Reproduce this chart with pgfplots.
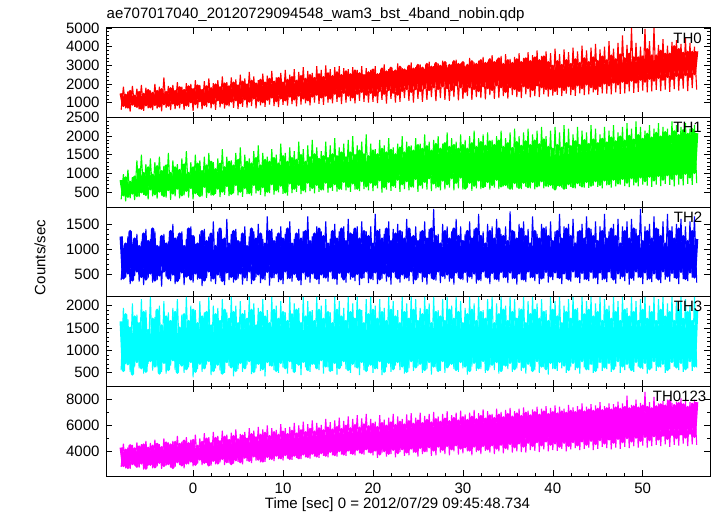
\documentclass[border=0pt]{standalone}
\usepackage{fontspec}
\setmainfont{Liberation Sans}
\usepackage{pgfplots}
\usepackage{pgfplotstable}
\pgfplotsset{compat=1.18}
\definecolor{cR}{RGB}{255,0,0}
\definecolor{cG}{RGB}{0,255,0}
\definecolor{cB}{RGB}{0,0,255}
\definecolor{cC}{RGB}{0,255,255}
\definecolor{cM}{RGB}{255,0,255}
\pgfplotstableread{
t a b c d e f g h i j
-8.00 620 300 380 560 2800 1500 820 1250 1650 4300
-7.75 1850 980 1020 1950 4600 850 420 420 550 2900
-7.50 700 250 430 700 2700 1400 880 1100 1800 4100
-7.25 1600 1100 1250 1700 4300 760 380 520 700 2750
-7.00 520 330 300 520 2650 1600 760 1350 1500 4450
-6.75 1900 900 1100 2050 4500 920 470 380 470 3050
-6.50 780 280 460 640 2900 1350 900 1200 1750 4200
-6.25 1750 1350 1300 1800 4700 800 400 560 750 2850
-6.00 640 360 350 600 2750 1550 1100 1050 1600 4350
-5.75 1950 1500 1150 2150 4550 700 500 450 610 3100
-5.50 560 420 280 480 2600 1450 1000 1300 1850 4500
-5.25 1800 1250 1400 1900 4800 880 430 400 530 2700
-5.00 700 300 420 700 2900 1650 1150 1150 1450 4250
-4.75 1650 1400 1200 2200 4650 780 580 520 770 3000
-4.50 600 380 330 550 2700 1500 950 1400 1700 4400
-4.25 2000 1300 1350 1750 4900 900 450 380 650 2800
-4.00 680 320 380 620 2850 1600 1180 1050 1900 4550
-3.75 1850 1450 1050 2000 4550 820 520 480 490 3150
-3.50 540 400 250 520 2650 1700 1050 1250 1550 4300
-3.25 2350 1200 1300 2100 5000 940 400 560 730 2900
-3.00 720 350 440 480 2900 1550 1200 1100 1750 4650
-2.75 1900 1550 1150 1850 4700 860 560 420 570 3050
-2.50 600 290 360 660 2750 1750 1000 1350 1650 4500
-2.25 1950 1350 1500 1950 4800 980 470 500 790 2750
-2.00 650 380 300 560 2800 1600 1150 1200 1850 4700
-1.75 2100 1250 1250 2150 5200 900 600 370 510 3200
-1.50 700 330 400 700 2950 1800 1080 1300 1500 4550
-1.25 1850 1400 1350 1800 4750 1000 420 540 670 2950
-1.00 620 410 280 500 2700 1650 1230 1050 1800 4800
-0.75 2050 1600 1200 2200 5100 880 540 460 590 3100
-0.50 780 350 460 620 3000 1850 1000 1400 1650 4600
-0.25 2000 1300 1450 2000 4900 1050 620 400 750 3250
0.00 560 300 330 400 2850 1700 1150 1250 1900 4850
0.25 2200 1500 1100 1900 5300 950 480 520 530 3000
0.50 700 420 390 580 3050 1900 1250 1100 1600 4400
0.75 1950 1350 1300 2100 5000 1100 400 430 710 3400
1.00 640 380 260 520 2950 1650 1050 1350 1750 4700
1.25 2150 1450 1400 1850 5400 900 650 380 610 3150
1.50 760 340 420 680 3100 1850 1200 1150 1850 4950
1.75 2300 1550 1250 2200 5100 1050 500 560 770 2950
2.00 700 400 350 450 2900 1750 1300 1300 1550 4600
2.25 2050 1300 1550 2000 5500 980 440 420 550 3300
2.50 620 450 300 600 3000 1950 1100 1050 1800 5000
2.75 2200 1400 1350 1950 5200 1150 600 500 690 3100
3.00 750 360 420 550 3150 1800 1250 1400 1650 4750
3.25 2400 1650 1200 2150 5600 1000 520 370 490 3450
3.50 680 420 280 500 2950 2000 1150 1200 1900 5100
3.75 2100 1450 1600 1850 5300 920 670 540 750 3200
4.00 800 390 380 650 3100 1850 1300 1100 1700 4850
4.25 2350 1350 1300 2200 5450 1080 460 450 630 3050
4.50 720 460 330 420 3050 2050 1200 1350 1850 5150
4.75 2250 1550 1400 2000 5700 1150 700 400 550 3350
5.00 660 410 410 580 3200 1900 1350 1150 1600 4900
5.25 2500 1700 1150 2100 5350 1000 520 520 730 3200
5.50 780 370 290 520 3000 2100 1150 1300 1800 5200
5.75 2300 1500 1450 1900 5500 1200 620 440 610 3550
6.00 740 440 360 680 3250 1950 1300 1050 1700 4950
6.25 2650 1400 1250 2200 5800 1080 480 560 770 3300
6.50 820 400 300 470 3100 2150 1250 1400 1900 5300
6.75 2400 1600 1350 2050 5600 1250 700 390 530 3650
7.00 700 460 440 600 3300 2000 1400 1200 1550 5050
7.25 2200 1750 1500 1950 5900 1120 560 500 710 3400
7.50 860 420 320 540 3150 2200 1200 1300 1850 5250
7.75 2550 1550 1200 2150 5700 1050 640 420 590 3250
8.00 780 380 380 420 3200 2050 1350 1100 1750 5400
8.25 2450 1450 1650 1900 6000 1180 520 550 750 3600
8.50 900 470 270 650 3350 2250 1300 1350 1600 5150
8.75 2700 1650 1400 2200 5800 1300 720 440 670 3450
9.00 820 430 420 560 3250 2100 1400 1150 1900 5450
9.25 2350 1500 1250 2000 5650 1100 560 520 550 3700
9.50 760 490 340 500 3400 2300 1250 1300 1700 5250
9.75 2600 1800 1450 2100 6100 1250 680 400 730 3500
10.00 880 450 300 620 3300 2050 1450 1200 1850 5500
10.25 2750 1550 1300 1850 5800 1150 500 560 610 3750
10.50 840 400 400 480 3450 2200 1300 1400 1650 5300
10.75 2500 1700 1550 2200 5900 1350 740 430 770 3450
11.00 920 470 350 580 3350 2350 1400 1100 1800 5550
11.25 2800 1600 1200 2050 6200 1200 600 510 530 3700
11.50 800 500 430 700 3500 2150 1350 1300 1900 5350
11.75 2650 1850 1400 1950 6000 1400 700 390 690 3500
12.00 900 440 280 450 3400 2400 1480 1200 1600 5600
12.25 2900 1650 1350 2200 6300 1250 560 540 750 3800
12.50 960 490 390 620 3550 2250 1300 1350 1750 5450
12.75 2700 1750 1650 2100 6100 1150 760 460 570 3600
13.00 860 520 330 520 3450 2450 1420 1150 1850 5700
13.25 2600 1900 1250 1900 6400 1350 620 520 710 3850
13.50 1000 460 410 680 3600 2300 1500 1300 1650 5500
13.75 2950 1700 1450 2200 6200 1450 700 410 610 3650
14.00 940 500 300 560 3500 2500 1380 1400 1900 5750
14.25 2750 1600 1350 2000 6050 1300 580 500 790 3900
14.50 880 540 420 480 3650 2350 1450 1250 1700 5600
14.75 3000 1850 1550 2150 6500 1400 760 440 650 3700
15.00 1000 480 350 620 3550 2550 1400 1100 1850 5800
15.25 2800 1750 1200 1850 6250 1250 640 560 550 4000
15.50 960 530 400 540 3700 2400 1500 1350 1600 5650
15.75 2900 1950 1500 2200 6400 1500 720 420 730 3750
16.00 1050 510 290 460 3600 2600 1450 1200 1900 5850
16.25 2950 1700 1350 2100 6600 1350 600 530 610 4050
16.50 920 560 430 650 3750 2450 1550 1400 1750 5700
16.75 2850 1800 1450 1950 6350 1550 780 400 770 3800
17.00 1000 540 330 580 3650 2650 1420 1150 1650 5950
17.25 2800 1900 1600 2200 6700 1400 650 540 570 4100
17.50 1080 500 390 500 3800 2500 1550 1300 1850 5750
17.75 2900 2000 1300 2050 6500 1300 740 450 710 3850
18.00 960 560 360 620 3700 2700 1480 1400 1700 6000
18.25 2750 1750 1450 2200 6800 1500 600 510 630 4150
18.50 1100 520 280 450 3850 2550 1600 1200 1900 5800
18.75 2950 1850 1550 1900 6550 1600 800 430 750 3900
19.00 1050 580 420 560 3750 2450 1500 1350 1600 6050
19.25 2850 2050 1350 2150 6900 1450 660 560 550 4200
19.50 1000 540 320 640 3900 2600 1450 1250 1800 5900
19.75 2750 1800 1450 2200 6500 1550 760 420 690 3950
20.00 1050 520 380 500 3700 2750 1600 1100 1900 6100
20.25 2950 1650 1700 2000 6300 1400 700 540 610 4100
20.50 980 600 300 580 3500 2500 1500 1350 1700 5850
20.75 2600 1900 1400 2150 6800 1650 820 400 770 3800
21.00 1150 480 410 450 3900 2800 1650 1200 1850 6150
21.25 3050 1750 1300 1950 6450 1500 640 520 530 4050
21.50 950 560 350 620 3600 2650 1550 1400 1650 5950
21.75 2800 1950 1550 2200 6600 1700 780 460 730 3850
22.00 1200 530 290 520 3800 2850 1620 1150 1900 6200
22.25 2700 1700 1400 2100 6900 1550 680 550 590 4150
22.50 1000 610 430 660 3550 2700 1500 1300 1750 6000
22.75 3100 1800 1500 1900 6700 1450 840 420 750 3900
23.00 1050 500 330 560 3950 2900 1680 1350 1600 6250
23.25 2850 2000 1350 2200 6500 1650 720 500 650 4200
23.50 1250 580 400 480 3650 2750 1550 1200 1850 6050
23.75 2750 1850 1600 2050 6850 1750 800 440 530 3950
24.00 1100 540 360 600 3700 2950 1700 1400 1700 6300
24.25 3150 1750 1250 2200 6950 1600 660 560 770 4250
24.50 1000 620 300 540 3900 2800 1600 1250 1900 6100
24.75 2900 1950 1450 2150 6600 1750 860 400 630 4000
25.00 1200 500 420 650 3600 3000 1750 1150 1650 6350
25.25 3050 1800 1350 1950 7000 1650 700 540 710 4300
25.50 1050 590 340 500 3800 2850 1650 1350 1800 6150
25.75 2800 2050 1550 2200 6750 1800 780 450 570 4050
26.00 1150 560 290 580 3950 3050 1720 1200 1900 6400
26.25 3200 1850 1400 2050 6900 1700 880 520 750 4350
26.50 1300 520 410 460 3650 2900 1600 1400 1600 6200
26.75 2950 1900 1800 2200 7050 1850 740 410 650 4100
27.00 1080 600 370 620 3700 3100 1780 1250 1850 6450
27.25 3100 2000 1300 1900 6700 1750 660 560 550 4400
27.50 1250 540 320 540 3900 2950 1650 1100 1750 6250
27.75 3250 1800 1500 2150 6900 1900 820 470 770 4150
28.00 1150 570 400 500 3800 3150 1800 1350 1650 6500
28.25 2900 2100 1450 2200 7100 1800 720 500 630 4450
28.50 1100 620 350 660 3700 3000 1700 1200 1900 6300
28.75 3050 1950 1350 2000 6800 1700 880 430 710 4200
29.00 1300 540 290 580 4000 3200 1750 1400 1700 6550
29.25 3300 1850 1600 2200 7000 1950 760 540 570 4500
29.50 1120 600 420 520 3750 3050 1650 1250 1850 6350
29.75 3100 2050 1450 2100 7150 1850 900 420 750 4250
30.00 1200 560 380 600 3850 3150 1750 1150 1600 6600
30.25 2950 1900 1300 1950 6850 1600 600 550 650 4350
30.50 1350 620 330 460 4000 3000 1650 1350 1800 6400
30.75 3400 2000 1550 2200 7000 1850 760 460 550 4100
31.00 1150 530 400 640 3700 3200 1800 1200 1900 6650
31.25 3150 2150 1400 2050 7200 1750 680 520 730 4400
31.50 1300 600 310 540 3950 3050 1700 1400 1650 6450
31.75 3250 1950 1700 2200 6950 1650 820 400 610 4150
32.00 1250 580 360 580 3800 3250 1830 1250 1850 6700
32.25 3450 2050 1350 1900 7250 1900 640 560 770 4450
32.50 1180 640 430 500 4050 3100 1730 1100 1700 6500
32.75 3200 2100 1500 2150 7100 1800 780 440 570 4200
33.00 1400 560 300 620 3900 3300 1850 1350 1900 6750
33.25 3550 1900 1450 2200 6900 1700 700 530 690 4500
33.50 1200 620 390 560 3800 3150 1750 1200 1600 6550
33.75 3300 2000 1600 2050 7300 1950 840 410 750 4250
34.00 1250 580 350 480 4000 3350 1870 1400 1800 6800
34.25 3500 2150 1300 2200 7050 1850 660 550 550 4550
34.50 1350 650 420 660 3850 3050 1700 1250 1900 6600
34.75 3600 1950 1450 2000 7200 1600 700 450 670 4300
35.00 1220 600 320 580 4100 3250 1800 1150 1650 6850
35.25 3350 2100 1750 2200 7350 1850 600 540 730 4600
35.50 1400 560 400 520 3900 3100 1670 1350 1850 6650
35.75 3450 2200 1350 2150 7100 1750 750 430 590 4350
36.00 1300 620 290 600 4000 3300 1830 1200 1700 6900
36.25 3650 2000 1500 1950 7300 1650 620 520 750 4650
36.50 1250 580 380 540 3950 3150 1730 1400 1900 6700
36.75 3400 2100 1550 2200 7400 1900 760 400 630 4400
37.00 1450 640 340 480 3900 3350 1850 1250 1600 6950
37.25 3700 2200 1400 2100 7150 1800 640 560 710 4700
37.50 1280 600 420 640 4100 3200 1750 1100 1800 6750
37.75 3550 2050 1650 2200 7250 1700 780 450 550 4450
38.00 1350 570 360 560 4050 3400 1870 1350 1900 7000
38.25 3800 2150 1300 2050 7450 1950 660 520 770 4750
38.50 1300 650 300 500 3950 3250 1770 1200 1700 6800
38.75 3500 2250 1500 2150 7300 1850 800 420 650 4500
39.00 1450 600 410 620 4150 3450 1900 1400 1850 7050
39.25 3750 2000 1450 1900 7500 1750 680 550 590 4800
39.50 1320 630 330 460 4000 3150 1700 1250 1650 6850
39.75 3650 2150 1550 2200 7350 1750 700 460 730 4550
40.00 1380 590 380 580 4100 2950 1650 1150 1900 7000
40.25 3900 2250 1350 2100 7550 1650 580 540 610 4650
40.50 1420 660 420 540 4050 3200 1750 1350 1750 6900
40.75 3600 2100 1700 2200 7450 1850 680 430 750 4400
41.00 1350 620 300 600 4200 3000 1680 1200 1600 7050
41.25 3850 2300 1450 2000 7300 1700 600 520 670 4700
41.50 1480 580 400 500 4000 3250 1800 1400 1850 6950
41.75 3700 2200 1500 2150 7600 1900 720 400 570 4450
42.00 1400 640 350 640 4150 3050 1720 1250 1700 7100
42.25 3950 2050 1600 2200 7400 1750 640 560 730 4750
42.50 1360 600 430 560 4250 3300 1850 1100 1900 7000
42.75 3750 2250 1350 1950 7500 1950 750 450 630 4500
43.00 1500 660 320 480 4100 3100 1750 1350 1650 7150
43.25 4050 2150 1500 2200 7700 1800 660 530 770 4800
43.50 1400 620 390 620 4200 3350 1880 1200 1800 7050
43.75 3800 2100 1650 2100 7450 2000 780 410 590 4550
44.00 1450 610 360 560 4300 3150 1780 1400 1900 7200
44.25 3950 2300 1400 2200 7650 1850 680 550 710 4850
44.50 1550 670 410 500 4100 3400 1900 1250 1750 7100
44.75 4150 2200 1550 2050 7550 1750 800 440 550 4600
45.00 1420 640 300 600 4200 3200 1800 1150 1850 7250
45.25 3850 2050 1450 2200 7800 1900 700 540 750 4900
45.50 1500 600 380 540 4350 3450 1920 1350 1650 7150
45.75 4000 2250 1700 2150 7500 2050 820 420 630 4650
46.00 1480 680 340 580 4250 3250 1820 1200 1900 7300
46.25 4300 2150 1350 2000 7700 1950 720 560 730 4950
46.50 1440 620 420 520 4150 3500 1950 1400 1700 7200
46.75 3900 2300 1500 2200 7650 2100 840 400 590 4700
47.00 1550 650 310 640 4300 3300 1850 1250 1850 7350
47.25 4200 2100 1600 2100 7850 2000 740 520 770 5000
47.50 1470 700 400 500 4200 3550 1980 1100 1650 7250
47.75 4600 2250 1450 2200 7700 2150 860 460 650 4750
48.00 1500 660 360 560 4350 3350 1870 1350 1900 7400
48.25 4100 2350 1550 1950 8300 2050 760 540 710 5050
48.50 1600 630 290 600 4250 3600 2000 1200 1750 7300
48.75 5000 2200 1600 2200 7600 2200 880 430 570 4800
49.00 1520 680 370 520 4400 3400 1900 1400 1850 7450
49.25 4200 2400 1400 2100 8000 2100 780 560 750 5100
49.50 1580 650 430 640 4300 3400 2020 1250 1650 7350
49.75 4000 2250 1800 2150 7750 2250 900 450 630 4850
50.00 1650 700 300 580 4450 3450 1920 1150 1900 7500
50.25 4950 2150 1450 2200 8600 2150 800 540 730 5150
50.50 1550 670 380 480 4300 3850 2050 1350 1700 7400
50.75 4300 2300 1500 2000 7800 2300 920 420 590 4900
51.00 1600 640 340 600 4400 3500 1950 1200 1850 7300
51.25 5000 2200 1650 2200 8200 2200 820 520 770 5200
51.50 1680 700 410 540 4500 3500 2080 1400 1650 7450
51.75 4100 2350 1400 2150 7700 2350 940 400 650 4950
52.00 1620 660 320 620 4400 3750 1980 1250 1900 7600
52.25 4400 2250 1550 2200 7900 2250 840 560 710 5250
52.50 1700 720 390 500 4550 3600 2100 1100 1750 7500
52.75 4050 2200 1700 2050 8000 2400 960 460 570 5000
53.00 1580 690 350 580 4350 3600 2000 1350 1850 7900
53.25 4250 2400 1450 2200 7750 2300 860 530 750 5300
53.50 1720 650 420 640 4500 4000 2120 1200 1650 7550
53.75 4350 2300 1500 2100 7850 2450 980 430 630 5050
54.00 1650 700 300 560 4450 3850 2020 1400 1900 7700
54.25 4150 2250 1600 2200 8100 2350 880 550 730 5350
54.50 1750 680 400 520 4600 3650 2150 1250 1700 7600
54.75 4450 2350 1450 2150 7900 2500 1000 410 590 5100
55.00 1620 720 360 600 4400 3700 2050 1150 1850 7400
55.25 4200 2200 1550 2000 7800 2400 900 540 770 5400
55.50 1780 690 430 540 4550 3700 2180 1350 1650 7650
55.75 4000 2300 1650 2200 8000 2550 1020 440 650 5150
56.00 1700 740 330 620 4500 3750 2080 1200 1900 7800
}\lc
\newcommand\fs{\fontsize{15bp}{18bp}\selectfont}
\pgfplotsset{panel/.style={
  scale only axis, width=603.5bp, height=89.6bp,
  anchor=south west,
  xmin=-9.63, xmax=57.48,
  xtick={0,10,20,30,40,50}, minor x tick num=4,
  tick align=inside, major tick length=6bp, minor tick length=3bp,
  axis line style={line width=1bp},
  every tick/.style={black,line width=0.6bp},
  tick label style={font=\fs},
  /pgf/number format/assume math mode=true,
  /pgf/number format/1000 sep={},
  scaled y ticks=false,
  yticklabel style={xshift=-3.5bp},
  xticklabel style={yshift=-3.5bp},
  spikes/.style={line width=1.1bp, line join=miter, miter limit=2},
  dense/.style={line width=3.2bp, line join=round},
}}
\begin{document}
\begin{tikzpicture}
\useasboundingbox (0,0) rectangle (717bp,516bp);
% TH0
\begin{axis}[panel, at={(106.5bp,398.4bp)}, xticklabels={}, ymin=200, ymax=5000, ytick={1000,2000,3000,4000,5000}, minor y tick num=4]
\addplot[cR, spikes] table[x=t, y=a] {\lc};
\addplot[cR, dense] table[x=t, y=f] {\lc};
\node[anchor=north east, font=\fs, inner sep=0pt, xshift=-8bp, yshift=-4.5bp] at (rel axis cs:1,1) {TH0};
\end{axis}
% TH1
\begin{axis}[panel, at={(106.5bp,308.8bp)}, xticklabels={}, ymin=90, ymax=2500, ytick={500,1000,1500,2000,2500}, minor y tick num=4]
\addplot[cG, spikes] table[x=t, y=b] {\lc};
\addplot[cG, dense] table[x=t, y=g] {\lc};
\node[anchor=north east, font=\fs, inner sep=0pt, xshift=-8bp, yshift=-4.5bp] at (rel axis cs:1,1) {TH1};
\end{axis}
% TH2
\begin{axis}[panel, at={(106.5bp,219.2bp)}, xticklabels={}, ymin=45, ymax=1835, ytick={500,1000,1500}, minor y tick num=4]
\addplot[cB, spikes] table[x=t, y=c] {\lc};
\addplot[cB, dense] table[x=t, y=h] {\lc};
\node[anchor=north east, font=\fs, inner sep=0pt, xshift=-7.5bp, yshift=-4.5bp] at (rel axis cs:1,1) {TH2};
\end{axis}
% TH3
\begin{axis}[panel, at={(106.5bp,129.6bp)}, xticklabels={}, ymin=195, ymax=2200, ytick={500,1000,1500,2000}, minor y tick num=4]
\addplot[cC, spikes] table[x=t, y=d] {\lc};
\addplot[cC, dense] table[x=t, y=i] {\lc};
\node[anchor=north east, font=\fs, inner sep=0pt, xshift=-7.5bp, yshift=-4.5bp] at (rel axis cs:1,1) {TH3};
\end{axis}
% TH0123
\begin{axis}[panel, at={(106.5bp,40bp)}, ymin=2100, ymax=9020, ytick={4000,6000,8000}, minor y tick num=1]
\addplot[cM, spikes] table[x=t, y=e] {\lc};
\addplot[cM, dense] table[x=t, y=j] {\lc};
\node[anchor=north east, font=\fs, inner sep=0pt, xshift=-3.5bp, yshift=-4.5bp] at (rel axis cs:1,1) {TH0123};
\end{axis}
\node[font=\fs, anchor=base west, inner sep=0pt] at (106.5bp,497bp) {ae707017040\_20120729094548\_wam3\_bst\_4band\_nobin.qdp};
\node[font=\fs, rotate=90, anchor=center, inner sep=0pt] at (40bp,258.5bp) {Counts/sec};
\node[font=\fs, anchor=base, inner sep=0pt] at (397.5bp,8bp) {Time [sec] 0 = 2012/07/29 09:45:48.734};
\end{tikzpicture}
\end{document}
